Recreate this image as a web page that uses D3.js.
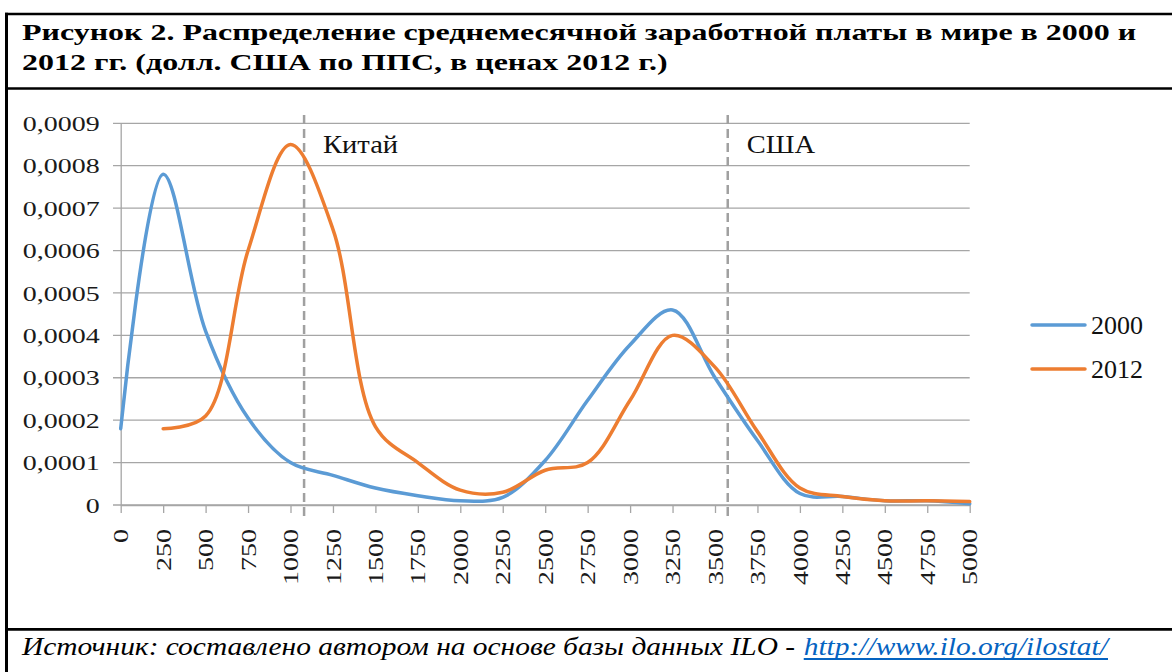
<!DOCTYPE html>
<html>
<head>
<meta charset="utf-8">
<script src="https://cdn.jsdelivr.net/npm/d3@7"></script>
<style>
  body { margin: 0; background: #fff; }
  svg { display: block; }
  svg text { font-family: "Liberation Serif", Tinos, "Times New Roman", Times, serif; }
</style>
</head>
<body>
<svg id="chart" width="1172" height="672"></svg>
<script>
// wage bins (USD PPP, 2012 prices)
var xCats = [0, 250, 500, 750, 1000, 1250, 1500, 1750, 2000, 2250, 2500,
             2750, 3000, 3250, 3500, 3750, 4000, 4250, 4500, 4750, 5000];

var series2000 = [0.00018, 0.00078, 0.00041, 0.000205, 0.0001, 0.00007, 0.00004,
                  0.000022, 0.00001, 0.000018, 0.000105, 0.000247, 0.000378, 0.00046,
                  0.0003, 0.000152, 0.000027, 0.00002, 0.00001, 0.00001, 0.000003];

var series2012 = [null, 0.00018, 0.00021, 0.0006, 0.00085, 0.00065, 0.000185,
                  0.0001, 0.000035, 0.00003, 0.000082, 0.0001, 0.000247, 0.0004,
                  0.000325, 0.000173, 0.00004, 0.00002, 0.00001, 0.00001, 0.000008];

var seriesNames = ["2000", "2012"];
var seriesColors = ["#5B9BD5", "#ED7D31"];

var yTicks = [0, 0.0001, 0.0002, 0.0003, 0.0004, 0.0005, 0.0006, 0.0007, 0.0008, 0.0009];
var yTickLabels = ["0", "0,0001", "0,0002", "0,0003", "0,0004", "0,0005", "0,0006", "0,0007", "0,0008", "0,0009"];

var markerNames = ["Китай", "США"];
var markerValues = [1080, 3575];

var titleLines = ["Рисунок 2. Распределение среднемесячной заработной платы в мире в 2000 и",
                  "2012 гг. (долл. США по ППС, в ценах 2012 г.)"];
var sourceText = "Источник: составлено автором на основе базы данных ILO -";
var sourceLink = "http://www.ilo.org/ilostat/";

var svg = d3.select("#chart");

// width of a string in the current font, used to stretch text like the original
function textWidth(str, size, weight, style) {
  var t = svg.append("text").attr("font-size", size)
      .attr("font-weight", weight || "normal").attr("font-style", style || "normal").text(str);
  var w = t.node().getComputedTextLength();
  t.remove();
  return w;
}

// frame
var frame = svg.append("g").attr("stroke", "#000");
frame.append("line").attr("x1", 5).attr("x2", 1172).attr("y1", 14).attr("y2", 14).attr("stroke-width", 2.6);
frame.append("line").attr("x1", 6.5).attr("x2", 6.5).attr("y1", 12.7).attr("y2", 672).attr("stroke-width", 3);
frame.append("line").attr("x1", 5).attr("x2", 1172).attr("y1", 88.5).attr("y2", 88.5).attr("stroke-width", 2.6);
frame.append("line").attr("x1", 5).attr("x2", 1172).attr("y1", 629.3).attr("y2", 629.3).attr("stroke-width", 2.8);

// title
var tg = svg.append("g");
var t1 = tg.append("text").attr("x", 0).attr("y", 0)
    .attr("font-weight", "bold").attr("font-size", 23.5)
    .text(titleLines[0]);
tg.append("text").attr("x", 0).attr("y", 31)
    .attr("font-weight", "bold").attr("font-size", 23.5)
    .text(titleLines[1]);
var tf = 1115 / t1.node().getComputedTextLength();
tg.attr("transform", "translate(22,39.5) scale(" + tf + ",1)");

// source
var sg = svg.append("g");
var s1 = sg.append("text").attr("x", 0).attr("y", 0)
    .attr("font-style", "italic").attr("font-size", 25)
    .attr("fill", "#000").text(sourceText);
var l1 = s1.node().getComputedTextLength();
var gap = 7;
var s2 = sg.append("text").attr("x", l1 + gap).attr("y", 0)
    .attr("font-style", "italic").attr("font-size", 25)
    .attr("fill", "#0563C1").text(sourceLink);
var l2 = s2.node().getComputedTextLength();
sg.append("line").attr("x1", l1 + gap).attr("x2", l1 + gap + l2)
    .attr("y1", 4).attr("y2", 4).attr("stroke", "#0563C1").attr("stroke-width", 1.8);
var sf = (1108 - 22) / (l1 + gap + l2);
sg.attr("transform", "translate(22,655) scale(" + sf + ",1)");

// scales
var x = d3.scaleLinear().domain([0, 5000]).range([120.7, 969.7]);
var y = d3.scaleLinear().domain([0, 0.0009]).range([505, 123.3]);

// horizontal stretch for axis labels, taken from the widest y label
var kTick = 77 / textWidth("0,0009", 21);

// gridlines
svg.append("g").selectAll("line").data(yTicks).enter().append("line")
    .attr("x1", 113).attr("x2", x(5000))
    .attr("y1", function(d) { return y(d); })
    .attr("y2", function(d) { return y(d); })
    .attr("stroke", "#A6A6A6").attr("stroke-width", 1.3);

// y axis
var gy = svg.append("g").attr("transform", "translate(" + x(0) + ",0)")
    .call(d3.axisLeft(y).tickValues(yTicks).tickSize(0).tickPadding(0).tickSizeOuter(0)
        .tickFormat(function(d, i) { return yTickLabels[i]; }));
gy.select(".domain").attr("stroke", "#A6A6A6").attr("stroke-width", 1.3);
gy.selectAll("text")
    .attr("x", 0).attr("dy", "0.34em")
    .attr("transform", "translate(-21,0) scale(" + kTick + ",1)")
    .attr("font-size", 21).attr("fill", "#1a1a1a")
    .attr("text-anchor", "end");

// x axis
var gx = svg.append("g").attr("transform", "translate(0," + y(0) + ")")
    .call(d3.axisBottom(x).tickValues(xCats).tickSize(8).tickSizeOuter(0)
        .tickFormat(function(d) { return String(d); }));
gx.select(".domain").attr("stroke", "#A6A6A6").attr("stroke-width", 1.3);
gx.selectAll(".tick line").attr("stroke", "#A6A6A6").attr("stroke-width", 1.3);
gx.selectAll("text")
    .attr("x", 0).attr("y", 0).attr("dy", "0.34em")
    .attr("transform", "translate(0,24) rotate(-90) scale(" + kTick + ",1)")
    .attr("font-size", 21).attr("fill", "#1a1a1a")
    .attr("text-anchor", "end");
gy.attr("font-family", null);
gx.attr("font-family", null);

// marker lines
var kMark = 75 / textWidth(markerNames[0], 26);
var mk = svg.append("g");
markerValues.forEach(function(v, i) {
  mk.append("line").attr("x1", x(v)).attr("x2", x(v)).attr("y1", 115).attr("y2", 516)
      .attr("stroke", "#A0A0A0").attr("stroke-width", 2.5).attr("stroke-dasharray", "9,5");
  mk.append("text").attr("transform", "translate(" + (x(v) + 19) + ",153) scale(" + kMark + ",1)")
      .attr("font-size", 26).attr("fill", "#111")
      .text(markerNames[i]);
});

// series
var line = d3.line()
    .defined(function(d) { return d[1] != null; })
    .x(function(d) { return x(d[0]); })
    .y(function(d) { return y(d[1]); })
    .curve(d3.curveCatmullRom.alpha(0.5));

[series2000, series2012].forEach(function(s, i) {
  svg.append("path")
      .datum(xCats.map(function(c, j) { return [c, s[j]]; }))
      .attr("fill", "none").attr("stroke", seriesColors[i]).attr("stroke-width", 3.5)
      .attr("stroke-linejoin", "round").attr("stroke-linecap", "round")
      .attr("d", line);
});

// legend
var kLeg = 52 / textWidth(seriesNames[0], 26);
var lg = svg.append("g");
seriesNames.forEach(function(n, i) {
  var ly = 325 + i * 44;
  lg.append("line").attr("x1", 1032).attr("x2", 1085).attr("y1", ly).attr("y2", ly)
      .attr("stroke", seriesColors[i]).attr("stroke-width", 3.5).attr("stroke-linecap", "round");
  lg.append("text").attr("transform", "translate(1091," + ly + ") scale(" + kLeg + ",1)")
      .attr("dy", "0.34em")
      .attr("font-size", 26).attr("fill", "#111")
      .text(n);
});
</script>
</body>
</html>
